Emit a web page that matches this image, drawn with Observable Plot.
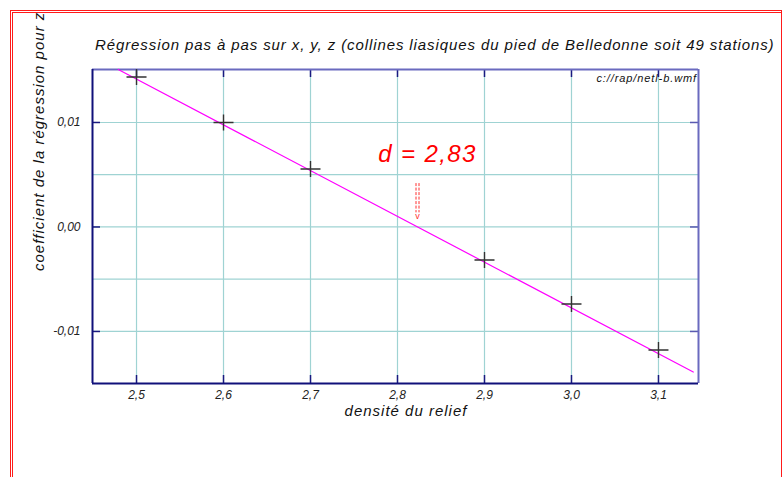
<!DOCTYPE html>
<html>
<head>
<meta charset="utf-8">
<script src="https://cdn.jsdelivr.net/npm/d3@7"></script>
<script src="https://cdn.jsdelivr.net/npm/@observablehq/plot@0.6"></script>
<style>
  html, body { margin: 0; padding: 0; background: #fff; }
  #wrap { position: relative; width: 783px; height: 477px; overflow: hidden; font-family: "Liberation Sans", Arial, sans-serif; font-style: italic; }
  #chart { position: absolute; left: 0; top: 0; }
  .t { position: absolute; white-space: nowrap; line-height: 1; color: #111; letter-spacing: 1px; }
  #border { position: absolute; left: 10px; top: 10px; width: 768px; height: 500px; border-left: 3px double #ff1a1a; border-top: 3px double #ff1a1a; border-right: 1px solid #ff1a1a; pointer-events: none; }
</style>
</head>
<body>
<div id="wrap">
  <div id="chart"></div>
  <div class="t" id="title" style="left:95px; top:37px; font-size:15px; letter-spacing:0.9px;"></div>
  <div class="t" id="ylab" style="left:31px; top:271px; font-size:15px; transform-origin:0 0; transform:rotate(-90deg);"></div>
  <div class="t" id="xlab" style="left:0; width:812px; text-align:center; top:403px; font-size:15px;"></div>
  <div class="t" id="src" style="left:500px; width:197px; text-align:right; top:73px; font-size:11px; letter-spacing:0.9px;"></div>
  <div id="border"></div>
</div>
<script>
// ---- data ----
const densite = [2.5, 2.6, 2.7, 2.9, 3.0, 3.1];
const coefficient = [0.01435, 0.0100, 0.00555, -0.00316, -0.00737, -0.01177];
const regX = [2.479, 3.14];
const regY = [0.01507, -0.01388];
const xTicks = [2.5, 2.6, 2.7, 2.8, 2.9, 3.0, 3.1];
const xTickLabels = ["2,5", "2,6", "2,7", "2,8", "2,9", "3,0", "3,1"];
const yTicks = [0.01, 0.0, -0.01];
const yTickLabels = ["0,01", "0,00", "-0,01"];
const yGrid = [0.01, 0.005, 0.0, -0.005, -0.01];
const dValue = 2.823;
const dLabel = "d = 2,83";
const titleText = "Régression pas à pas sur x, y, z (collines liasiques du pied de Belledonne soit 49 stations)";
const xLabelText = "densité du relief";
const yLabelText = "coefficient de la régression pour z";
const sourceText = "c://rap/netl-b.wmf";

const xDomain = [2.4494, 3.146];
const yDomain = [-0.01498, 0.01507];

const points = densite.map((d, i) => ({x: d, y: coefficient[i]}));
const regLine = regX.map((d, i) => ({x: d, y: regY[i]}));

const plusSymbol = {
  draw(ctx, size) {
    const r = Math.sqrt(size / Math.PI);
    ctx.moveTo(-r, 0); ctx.lineTo(r, 0);
    ctx.moveTo(0, -r * 0.8); ctx.lineTo(0, r * 0.8);
  }
};

const W = 783, H = 477, mL = 92, mR = 85, mT = 69, mB = 94;
const fw = W - mL - mR, fh = H - mT - mB;
const tick = 8;

const chart = Plot.plot({
  width: W, height: H,
  marginLeft: mL, marginRight: mR, marginTop: mT, marginBottom: mB,
  style: {fontFamily: '"Liberation Sans", Arial, sans-serif', fontStyle: "italic", fontSize: "12px", color: "#222", background: "transparent"},
  x: {domain: xDomain},
  y: {domain: yDomain},
  marks: [
    // grid
    Plot.ruleX(xTicks, {stroke: "#9fd3d3", strokeWidth: 1.2}),
    Plot.ruleY(yGrid, {stroke: "#9fd3d3", strokeWidth: 1.2}),
    // inward ticks
    Plot.ruleX(xTicks, {stroke: "#1a1a80", strokeWidth: 1.5, insetTop: fh - tick}),
    Plot.ruleX(xTicks, {stroke: "#1a1a80", strokeWidth: 1.5, insetBottom: fh - tick}),
    Plot.ruleY(yTicks, {stroke: "#1a1a80", strokeWidth: 1.5, insetRight: fw - tick}),
    Plot.ruleY(yTicks, {stroke: "#5a5ab0", strokeWidth: 1.5, insetLeft: fw - tick}),
    // frame
    Plot.ruleY([yDomain[1]], {stroke: "#6a6abf", strokeWidth: 2}),
    Plot.ruleX([xDomain[1]], {stroke: "#6a6abf", strokeWidth: 2}),
    Plot.ruleY([yDomain[0]], {stroke: "#10107a", strokeWidth: 2}),
    Plot.ruleX([xDomain[0]], {stroke: "#10107a", strokeWidth: 2}),
    // axes labels
    Plot.axisX(xTicks, {tickSize: 0, tickPadding: 7, tickFormat: (d, i) => xTickLabels[i], label: null, fill: "#222", fontStyle: "italic"}),
    Plot.axisY(yTicks, {tickSize: 0, tickPadding: 12, tickFormat: (d, i) => yTickLabels[i], label: null, fill: "#222", fontStyle: "italic"}),
    // regression line
    Plot.line(regLine, {x: "x", y: "y", stroke: "#ff00ff", strokeWidth: 1.2}),
    // points
    Plot.dot(points, {x: "x", y: "y", symbol: plusSymbol, r: 10, stroke: "#333", strokeWidth: 1.4, fill: "none"}),
    // annotation
    Plot.text([dLabel], {x: () => 2.8345, y: () => 0.00696, text: d => d, fill: "#ff0000", fontSize: 24, fontStyle: "italic", lineAnchor: "middle"}),
    Plot.link([0], {x1: () => dValue, x2: () => dValue, y1: () => 0.0042, y2: () => 0.0014, dx: -1.5, stroke: "#ff3030", strokeWidth: 1, strokeDasharray: "3,1.5"}),
    Plot.link([0], {x1: () => dValue, x2: () => dValue, y1: () => 0.0042, y2: () => 0.0014, dx: 1.5, stroke: "#ff3030", strokeWidth: 1, strokeDasharray: "3,1.5"}),
    Plot.text(["v"], {x: () => dValue, y: () => 0.00105, text: d => d, fill: "#ff3030", fontSize: 9, fontStyle: "normal"})
  ]
});
// letter spacing for the annotation text
chart.querySelectorAll("text").forEach(t => { if (t.textContent === dLabel) t.setAttribute("letter-spacing", "1.4"); });
document.getElementById("chart").appendChild(chart);
document.getElementById("title").textContent = titleText;
document.getElementById("ylab").textContent = yLabelText;
document.getElementById("xlab").textContent = xLabelText;
document.getElementById("src").textContent = sourceText;
</script>
</body>
</html>
